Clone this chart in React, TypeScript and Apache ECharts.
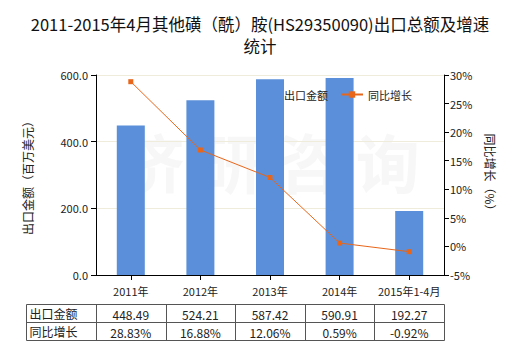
import React, { useEffect, useRef } from "react";
import * as echarts from "echarts";

const categories = ["2011年", "2012年", "2013年", "2014年", "2015年1-4月"];
const exportValues = [448.49, 524.21, 587.42, 590.91, 192.27];
const growthValues = [28.83, 16.88, 12.06, 0.59, -0.92];
const exportLabels = ["448.49", "524.21", "587.42", "590.91", "192.27"];
const growthLabels = ["28.83%", "16.88%", "12.06%", "0.59%", "-0.92%"];
const rowNames = ["出口金额", "同比增长"];

const FONT = "Noto Sans CJK SC";

export default function App() {
  const ref = useRef<HTMLDivElement>(null);
  useEffect(() => {
    const chart = echarts.init(ref.current!, null, { renderer: "svg" });
    const gridLeft = 96;
    const gridRight = 76;
    chart.setOption({
      animation: false,
      title: {
        text: "2011-2015年4月其他磺（酰）胺(HS29350090)出口总额及增速\n统计",
        left: "center",
        top: 8,
        textStyle: { fontSize: 16.5, fontWeight: "normal", color: "#111", fontFamily: FONT, lineHeight: 22 },
      },
      legend: {
        top: 84,
        left: 252,
        itemGap: 12,
        itemWidth: 22,
        itemHeight: 8,
        textStyle: { fontSize: 11, color: "#222", fontFamily: FONT },
        data: [
          { name: "出口金额", icon: "none" },
          { name: "同比增长" },
        ],
      },
      grid: { left: gridLeft, right: gridRight, top: 75, bottom: 75 },
      xAxis: {
        type: "category",
        data: categories,
        axisLine: { lineStyle: { color: "#000" } },
        axisTick: { show: true, alignWithLabel: true, lineStyle: { color: "#000" } },
        axisLabel: { interval: 0, fontSize: 11, color: "#222", fontFamily: FONT, margin: 10 },
      },
      yAxis: [
        {
          type: "value",
          min: 0,
          max: 600,
          interval: 200,
          name: "出口金额（百万美元）",
          nameLocation: "middle",
          nameGap: 63,
          nameRotate: 90,
          nameTextStyle: { fontSize: 12, color: "#222", fontFamily: FONT },
          axisLine: { show: true, lineStyle: { color: "#000" } },
          axisTick: { show: true, lineStyle: { color: "#000" } },
          axisLabel: { fontSize: 11, color: "#222", fontFamily: FONT, formatter: (v: number) => v.toFixed(1) },
          splitLine: { lineStyle: { color: "#f0ecdc" } },
        },
        {
          type: "value",
          min: -5,
          max: 30,
          interval: 5,
          name: "同比增长（%）",
          nameLocation: "middle",
          nameGap: 40,
          nameRotate: -90,
          nameTextStyle: { fontSize: 12, color: "#222", fontFamily: FONT },
          axisLine: { show: true, lineStyle: { color: "#000" } },
          axisTick: { show: true, lineStyle: { color: "#000" } },
          axisLabel: { fontSize: 11, color: "#222", fontFamily: FONT, formatter: "{value}%", margin: 6 },
          splitLine: { show: false },
        },
      ],
      series: [
        {
          name: "出口金额",
          type: "bar",
          data: exportValues,
          barWidth: 28,
          itemStyle: { color: "#5b8fd9" },
        },
        {
          name: "同比增长",
          type: "line",
          yAxisIndex: 1,
          data: growthValues,
          symbol: "rect",
          symbolSize: 5,
          itemStyle: { color: "#e8661a" },
          lineStyle: { color: "#e8661a", width: 1 },
        },
      ],
    });

    // Table below the chart
    const xs = categories.map((c) => chart.convertToPixel({ xAxisIndex: 0 }, c) as number);
    const colW = xs.length > 1 ? xs[1] - xs[0] : 70;
    const tableLeft = 26.5;
    const firstColRight = gridLeft + 0.5;
    const tableRight = Math.round(xs[xs.length - 1] + colW / 2) + 0.5;
    const rowTops = [304.5, 322.5, 340.5];
    const elements: any[] = [];
    const lineStyle = { stroke: "#555", lineWidth: 1 };
    rowTops.forEach((y) => {
      elements.push({ type: "line", shape: { x1: tableLeft, y1: y, x2: tableRight, y2: y }, style: lineStyle });
    });
    const vx = [tableLeft, firstColRight, ...xs.map((x) => Math.round(x + colW / 2) + 0.5)];
    vx.forEach((x) => {
      elements.push({ type: "line", shape: { x1: x, y1: rowTops[0], x2: x, y2: rowTops[2] }, style: lineStyle });
    });
    const rows = [exportLabels, growthLabels];
    rows.forEach((row, ri) => {
      const cy = (rowTops[ri] + rowTops[ri + 1]) / 2;
      elements.push({
        type: "text",
        x: tableLeft + 3,
        y: cy,
        style: { text: rowNames[ri], fill: "#222", fontSize: 12, fontFamily: FONT, verticalAlign: "middle" },
      });
      row.forEach((t, ci) => {
        elements.push({
          type: "text",
          x: xs[ci],
          y: cy + 1,
          style: { text: t, fill: "#222", fontSize: 12, fontFamily: FONT, align: "center", verticalAlign: "middle" },
        });
      });
    });
    // watermark
    elements.push({
      type: "text",
      x: 270,
      y: 160,
      z: -1,
      style: {
        text: "济 研 咨 询",
        fill: "rgba(200,200,200,0.15)",
        fontSize: 64,
        fontWeight: "bold",
        fontFamily: FONT,
        align: "center",
        verticalAlign: "middle",
      },
    });
    chart.setOption({ graphic: { elements } });
    return () => chart.dispose();
  }, []);
  return <div ref={ref} style={{ width: 520, height: 350, position: "absolute", left: 0, top: 0 }} />;
}
